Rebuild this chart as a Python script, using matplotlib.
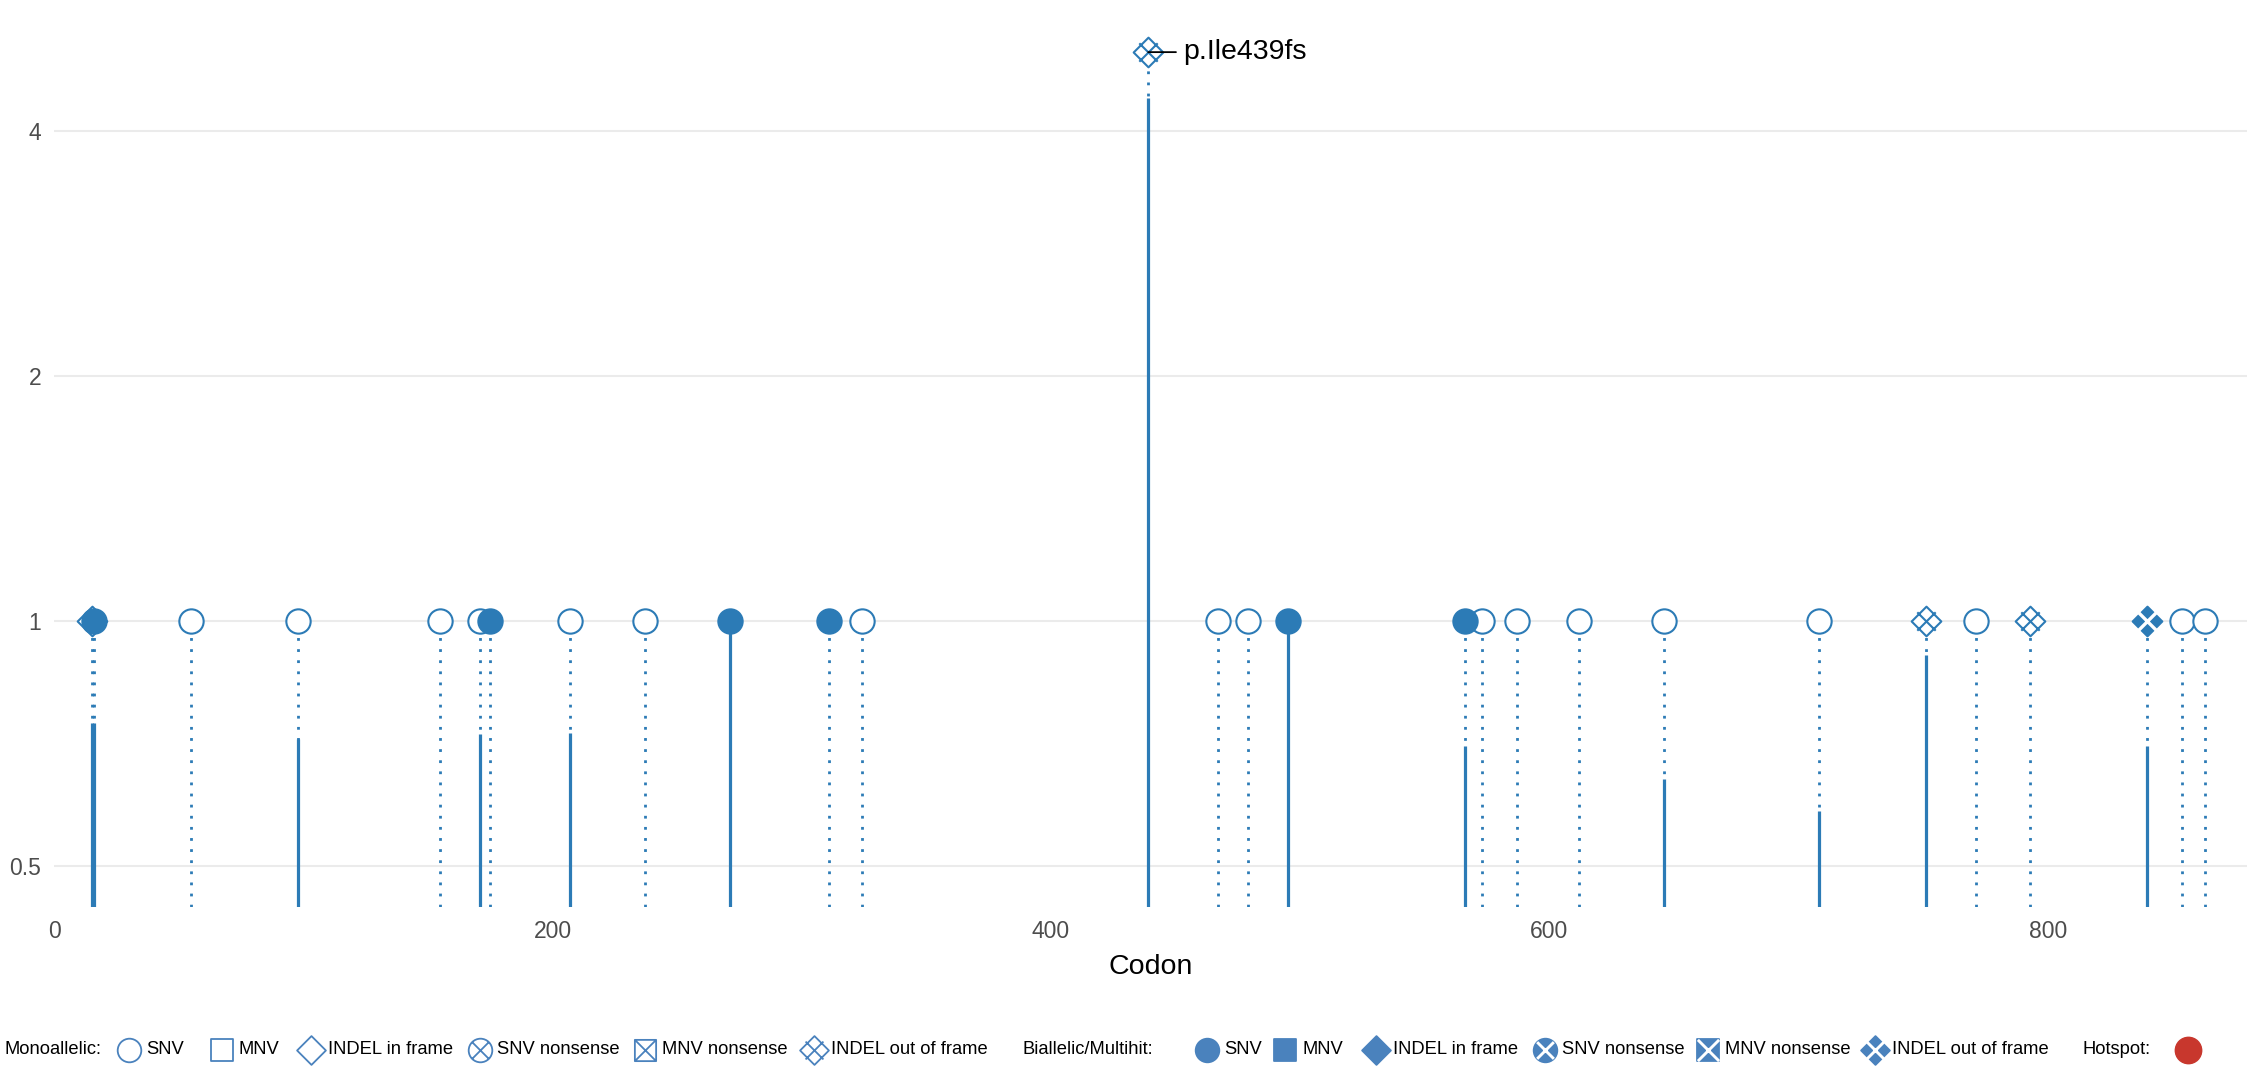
import numpy as np
import matplotlib
matplotlib.use("Agg")
import matplotlib.pyplot as plt
from matplotlib.path import Path

plt.rcParams['font.family'] = ['Liberation Sans', 'DejaVu Sans']

W, H = 2247, 1072
BLUE = '#2c7bb6'
LEG_BLUE = '#4a82bd'
HOT_RED = '#c8372d'

# mutations: codon, count, type, biallelic?, top of the solid stem (None = dotted only)
codon = [15, 16, 55, 98, 155, 171, 175, 207, 237, 271, 311, 324, 439, 467,
         479, 495, 566, 573, 587, 612, 646, 708, 751, 771, 793, 840, 854, 863]
count = [1, 1, 1, 1, 1, 1, 1, 1, 1, 1, 1, 1, 5, 1,
         1, 1, 1, 1, 1, 1, 1, 1, 1, 1, 1, 1, 1, 1]
mtype = ['INDEL in frame', 'SNV', 'SNV', 'SNV', 'SNV', 'SNV', 'SNV', 'SNV', 'SNV', 'SNV',
         'SNV', 'SNV', 'INDEL out of frame', 'SNV', 'SNV', 'SNV', 'SNV', 'SNV', 'SNV', 'SNV',
         'SNV', 'SNV', 'INDEL out of frame', 'SNV', 'INDEL out of frame', 'INDEL out of frame',
         'SNV', 'SNV']
biallelic = [False, True, False, False, False, False, True, False, False, True, True, False,
             False, False, False, True, True, False, False, False, False, False, False, False,
             False, True, False, False]
solid_top = [0.75, 0.75, None, 0.716, None, 0.727, None, 0.728, None, 1.0, None, None, 4.39,
             None, None, 1.0, 0.703, None, None, None, 0.64, 0.584, 0.908, None, None, 0.703,
             None, None]
labels = {439: 'p.Ile439fs'}

yticks = [0.5, 1, 2, 4]
ytick_labels = ['0.5', '1', '2', '4']
xticks = [0, 200, 400, 600, 800]

legend_types = ['SNV', 'MNV', 'INDEL in frame', 'SNV nonsense', 'MNV nonsense', 'INDEL out of frame']


# ---- marker shapes ----
def lines_path(segs):
    v, c = [], []
    for a, b in segs:
        v += [a, b]; c += [Path.MOVETO, Path.LINETO]
    return Path(v, c)

CIRCLE = Path.unit_circle()
SQUARE = Path([(-1, -1), (1, -1), (1, 1), (-1, 1), (-1, -1)],
              [Path.MOVETO, Path.LINETO, Path.LINETO, Path.LINETO, Path.CLOSEPOLY])
DIAMOND = Path([(0, 1), (1, 0), (0, -1), (-1, 0), (0, 1)],
               [Path.MOVETO, Path.LINETO, Path.LINETO, Path.LINETO, Path.CLOSEPOLY])
k = 0.7071
X_CIRC = lines_path([((-k, -k), (k, k)), ((-k, k), (k, -k))])
X_SQ = lines_path([((-1, -1), (1, 1)), ((-1, 1), (1, -1))])
GRID = lines_path([((-0.62, 0.62), (0.62, -0.62)), ((-0.62, -0.62), (0.62, 0.62))])

# shape, inner lines, inner-path extent relative to shape
SHAPES = {
    'SNV': (CIRCLE, None, 1),
    'MNV': (SQUARE, None, 1),
    'INDEL in frame': (DIAMOND, None, 1),
    'SNV nonsense': (CIRCLE, X_CIRC, k),
    'MNV nonsense': (SQUARE, X_SQ, 1),
    'INDEL out of frame': (DIAMOND, GRID, 0.62),
}
SIZE = {'SNV': 1.0, 'MNV': 0.9, 'INDEL in frame': 1.22, 'SNV nonsense': 1.0,
        'MNV nonsense': 0.9, 'INDEL out of frame': 1.22}


def draw_marker(a, x, y, t, filled, color, ms, mew, z, **kw):
    shape, inner, ext = SHAPES[t]
    ms = ms * SIZE[t]
    if filled:
        a.plot(x, y, ls='none', marker=shape, ms=ms, mfc=color, mec=color, mew=mew, zorder=z, **kw)
        if inner is not None:
            a.plot(x, y, ls='none', marker=inner, ms=ms * ext, mfc='none', mec='white',
                   mew=mew * 1.6, zorder=z + 0.1, **kw)
    else:
        full = shape if inner is None else Path.make_compound_path(shape, inner)
        a.plot(x, y, ls='none', marker=full, ms=ms, mfc='white', mec=color, mew=mew, zorder=z, **kw)


fig = plt.figure(figsize=(W / 100, H / 100), dpi=100)
x0_px, bottom_px, y1_px, dbl_px, px_per_codon = 54.2, 907, 621, 245, 2.492
ax = fig.add_axes([x0_px / W, 1 - bottom_px / H, 1 - x0_px / W, bottom_px / H])
ax.set_yscale('log', base=2)
ax.set_xlim(0, (W - x0_px) / px_per_codon)
ymin = 2 ** (-(bottom_px - y1_px) / dbl_px)
ax.set_ylim(ymin, 2 ** (y1_px / dbl_px))

for s in ax.spines.values():
    s.set_visible(False)
ax.set_yticks(yticks)
ax.set_yticklabels(ytick_labels)
ax.minorticks_off()
ax.set_xticks(xticks)
ax.tick_params(length=0, labelsize=16.5, labelcolor='#4d4d4d')
ax.tick_params(axis='y', pad=9.5)
ax.tick_params(axis='x', pad=9)
ax.grid(axis='y', color='#ebebeb', lw=1.5)
ax.set_axisbelow(True)
ax.set_xlabel('Codon', fontsize=20.5, labelpad=8)

# stems
ax.vlines(codon, ymin, count, colors=BLUE, lw=2, linestyles=(0, (1, 3)), zorder=2,
          capstyle='butt')
sx = [c for c, s in zip(codon, solid_top) if s is not None]
sy = [s for s in solid_top if s is not None]
ax.vlines(sx, ymin, sy, colors=BLUE, lw=2.3, zorder=3)

# heads: open ones first, filled on top
for want in (False, True):
    for c, n, t, b in zip(codon, count, mtype, biallelic):
        if b == want:
            draw_marker(ax, c, n, t, b, BLUE, 17.5, 1.5, 5 if b else 4, clip_on=False)

for c, n in zip(codon, count):
    if c in labels:
        ax.annotate(labels[c], xy=(c, n), xytext=(25, 0), textcoords='offset points',
                    ha='left', va='center', fontsize=20.5, color='black', zorder=7,
                    arrowprops=dict(arrowstyle='-', color='black', lw=1.3, shrinkA=3, shrinkB=0))

# ---- legend row (pixel layout) ----
lg = fig.add_axes([0, 0, 1, 1], facecolor='none')
lg.set_xlim(0, W); lg.set_ylim(H, 0); lg.axis('off')
ly = 1050
fs = 13.2
mono_x = [129, 222, 311, 480, 645, 814]
bi_x = [1207, 1285, 1376, 1545, 1708, 1875]
lg.text(4, ly, 'Monoallelic:', fontsize=fs, va='center', ha='left')
lg.text(1022, ly, 'Biallelic/Multihit:', fontsize=fs, va='center', ha='left')
lg.text(2082, ly, 'Hotspot:', fontsize=fs, va='center', ha='left')
for xs, filled in ((mono_x, False), (bi_x, True)):
    for xp, t in zip(xs, legend_types):
        draw_marker(lg, xp, ly, t, filled, LEG_BLUE, 17, 1.3, 5)
        lg.text(xp + 17, ly, t, fontsize=fs, va='center', ha='left')
lg.plot(2188, ly, ls='none', marker='o', ms=19, mfc=HOT_RED, mec=HOT_RED, zorder=5)

fig.savefig('out.png', dpi=100)
